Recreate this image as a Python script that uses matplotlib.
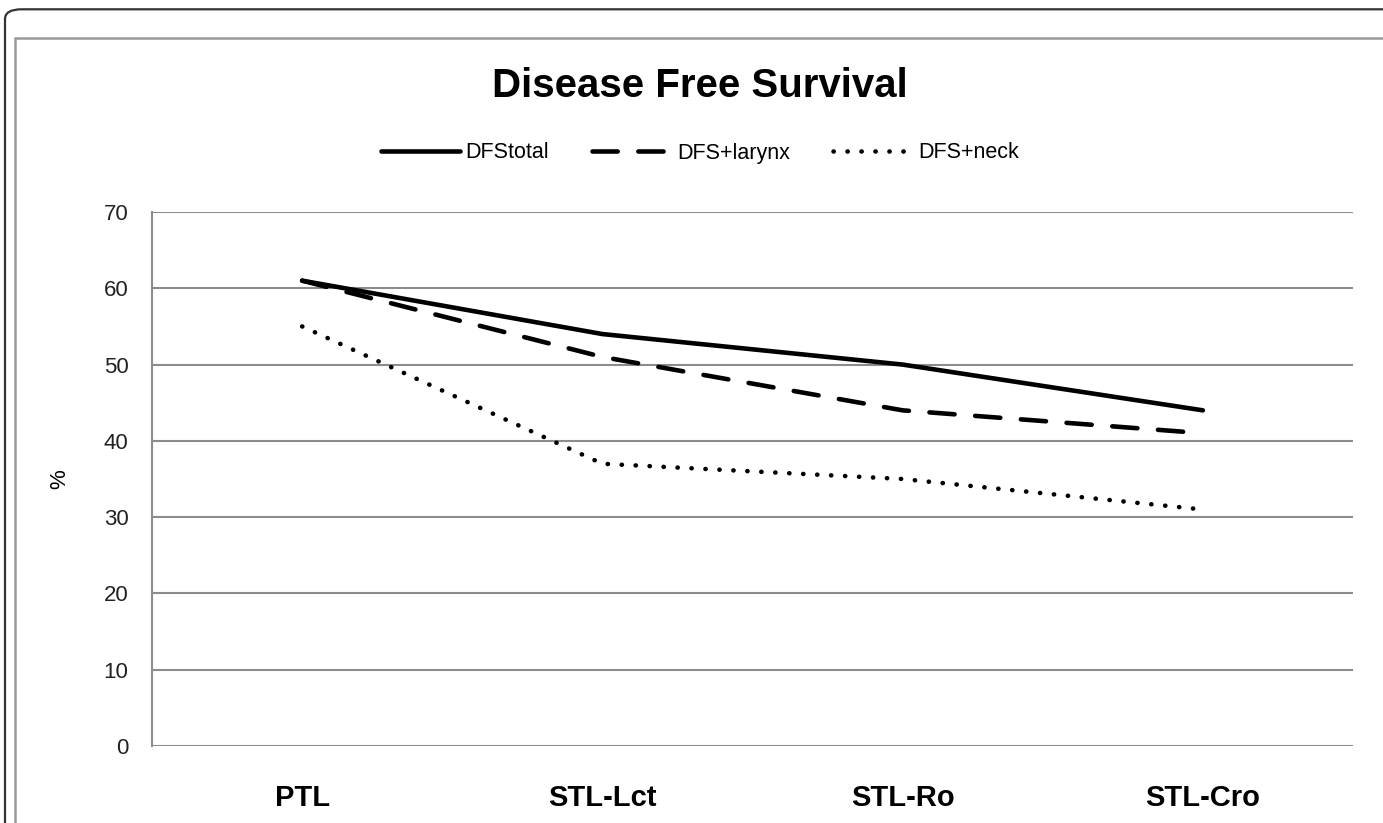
import matplotlib
matplotlib.use("Agg")
import matplotlib.pyplot as plt
from matplotlib.patches import FancyBboxPatch, Rectangle

categories = ['PTL', 'STL-Lct', 'STL-Ro', 'STL-Cro']
dfs_total = [61, 54, 50, 44]
dfs_larynx = [61, 51, 44, 41]
dfs_neck = [55, 37, 35, 31]
yticks = [0, 10, 20, 30, 40, 50, 60, 70]

plt.rcParams['font.family'] = ['Liberation Sans', 'DejaVu Sans']

W, H = 1383, 823
fig = plt.figure(figsize=(W / 100, H / 100), dpi=100)

# outer rounded frame and inner gray frame (both run off right/bottom)
fig.patches.append(FancyBboxPatch((5 / W, -0.1), 1.2, (H - 9 + 82) / H,
                                  boxstyle="round,pad=0,rounding_size=0.012",
                                  transform=fig.transFigure, fill=False,
                                  edgecolor='#333333', linewidth=1.6))
fig.patches.append(Rectangle((15 / W, -0.1), 1.2, (H - 38 + 82) / H,
                             transform=fig.transFigure, fill=False,
                             edgecolor='#999999', linewidth=1.8))

ax = fig.add_axes([152 / W, (H - 746) / H, (1353 - 152) / W, (746 - 212) / H])
x = range(len(categories))

ax.plot(x, dfs_total, color='black', linewidth=3.3, solid_capstyle='round',
        label='DFStotal')
ax.plot(x, dfs_larynx, color='black', linewidth=3.3, dashes=(5.5, 4.5),
        dash_capstyle='round', label='DFS+larynx')
ax.plot(x, dfs_neck, color='black', linewidth=3.3, dashes=(0.05, 3.0),
        dash_capstyle='round', label='DFS+neck')

ax.set_xlim(-0.5, len(categories) - 0.5)
ax.set_ylim(0, 70)
ax.set_yticks(yticks)
ax.set_xticks(list(x))
ax.set_xticklabels(categories, fontsize=21, fontweight='bold')
ax.tick_params(axis='y', length=0, pad=17, labelsize=16, labelcolor='#222222')
ax.tick_params(axis='x', length=0, pad=27)
ax.yaxis.grid(True, color='#8c8c8c', linewidth=1.5)
ax.set_axisbelow(True)
for s in ['top', 'right', 'bottom']:
    ax.spines[s].set_visible(False)
ax.spines['left'].set_color('#8c8c8c')
ax.spines['left'].set_linewidth(1.5)

ax.set_ylabel('%', fontsize=16)
ax.yaxis.set_label_coords((70 - 152) / (1353 - 152), 0.5)

fig.text(0.506, (H - 86) / H, 'Disease Free Survival', ha='center', va='center',
         fontsize=29, fontweight='bold')

leg = ax.legend(loc='center', ncol=3, frameon=False,
                fontsize=15.5, handlelength=3.7, columnspacing=2.0,
                handletextpad=0.25)
leg.set_bbox_to_anchor((0.506, (H - 153) / H), transform=fig.transFigure)

fig.savefig('out.png', dpi=100)
